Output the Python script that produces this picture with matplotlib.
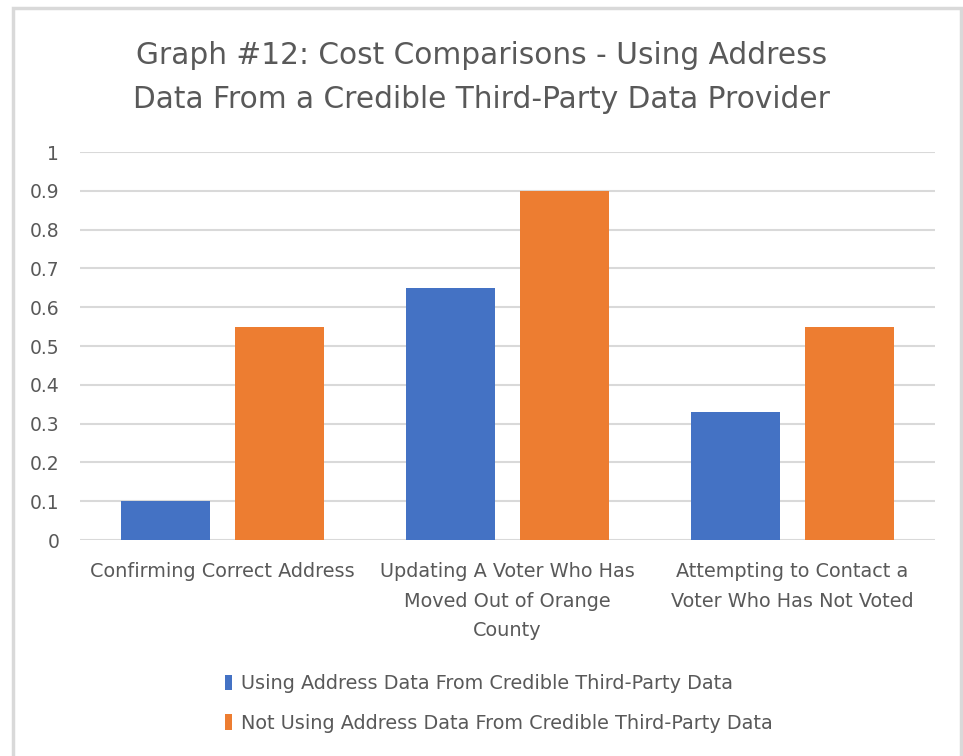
import numpy as np
import matplotlib.pyplot as plt
from matplotlib.patches import Rectangle

# datos
categorias = ["Confirming Correct Address",
              "Updating A Voter Who Has\nMoved Out of Orange\nCounty",
              "Attempting to Contact a\nVoter Who Has Not Voted"]
con_datos = [0.10, 0.65, 0.33]
sin_datos = [0.55, 0.90, 0.55]
series = ["Using Address Data From Credible Third-Party Data",
          "Not Using Address Data From Credible Third-Party Data"]
yticks = np.arange(0, 1.01, 0.1)
yticklabels = ["0", "0.1", "0.2", "0.3", "0.4", "0.5", "0.6", "0.7", "0.8", "0.9", "1"]

azul = "#4472C4"
naranja = "#ED7D31"
gris = "#595959"

plt.rcParams['font.family'] = ['DejaVu Sans']

fig = plt.figure(figsize=(9.63, 7.56), dpi=100)
ax = fig.add_axes([80/963, 1-540/756, 855/963, 388/756])

x = np.arange(len(categorias))
w = 0.31
b1 = ax.bar(x - 0.2, con_datos, w, color=azul, zorder=3)
b2 = ax.bar(x + 0.2, sin_datos, w, color=naranja, zorder=3)

ax.set_xlim(-0.5, 2.5)
ax.set_ylim(0, 1)
ax.set_yticks(yticks)
ax.set_yticklabels(yticklabels, fontsize=13.5, color=gris)
ax.set_xticks(x)
ax.set_xticklabels(categorias, fontsize=13.9, color=gris, linespacing=1.7)
ax.tick_params(length=0)
ax.tick_params(axis='y', pad=15)
ax.tick_params(axis='x', pad=16)
ax.grid(axis='y', color="#D9D9D9", linewidth=1.5, zorder=0)
for s in ax.spines.values():
    s.set_visible(False)

fig.text(0.5, 1-55/756, "Graph #12: Cost Comparisons - Using Address",
         ha='center', va='center', fontsize=21.3, color=gris)
fig.text(0.5, 1-100/756, "Data From a Credible Third-Party Data Provider",
         ha='center', va='center', fontsize=21.3, color=gris)

leg = fig.legend([b1, b2], series, loc='upper left',
                 bbox_to_anchor=(208/963, 1-657/756), frameon=False,
                 fontsize=13.9, handlelength=0.35, handleheight=0.85,
                 handletextpad=0.45, labelspacing=1.05, labelcolor=gris)

# borde del grafico
fig.patches.append(Rectangle((13/963, -0.1), (961-13)/963, 1.1 - 8/756,
                             transform=fig.transFigure, fill=False,
                             edgecolor="#D9D9D9", linewidth=2.5))

fig.savefig("out.png", dpi=100)
